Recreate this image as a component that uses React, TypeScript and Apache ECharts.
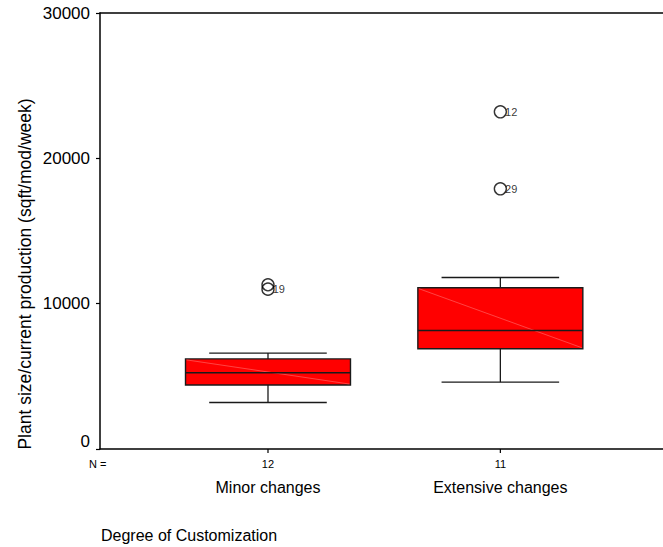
import React, { useEffect, useRef } from "react";
import * as echarts from "echarts";

// Box summary per group (sqft/mod/week)
const categories = ["Minor changes", "Extensive changes"];
const caseCounts = [12, 11];
const lowerWhisker = [3200, 4600];
const q1 = [4400, 6900];
const median = [5250, 8150];
const q3 = [6200, 11100];
const upperWhisker = [6600, 11800];

// Outliers: group index, value, case label
const outlierGroup = [0, 0, 1, 1];
const outlierValue = [11300, 11000, 23200, 17900];
const outlierCase = ["", "19", "12", "29"];

const yTicks = [0, 10000, 20000, 30000];

const FONT = 'Arial, "Liberation Sans", Helvetica, sans-serif';
const BOX_HALF = 0.355;
const CAP_HALF = 0.253;

export default function App() {
  const ref = useRef<HTMLDivElement>(null);

  useEffect(() => {
    document.body.style.margin = "0";
    if (!ref.current) return;
    const chart = echarts.init(ref.current, null, { renderer: "svg" });

    const boxData = categories.map((_, i) => [
      i + 1,
      lowerWhisker[i],
      q1[i],
      median[i],
      q3[i],
      upperWhisker[i],
      caseCounts[i],
    ]);
    const outlierData = outlierValue.map((v, i) => ({
      value: [outlierGroup[i] + 1, v],
      label: { formatter: outlierCase[i] },
    }));

    const renderBox = (params: any, api: any) => {
      const x = api.value(0);
      const idx = params.dataIndex;
      const pLo = api.coord([x, api.value(1)]);
      const pQ1 = api.coord([x, api.value(2)]);
      const pMed = api.coord([x, api.value(3)]);
      const pQ3 = api.coord([x, api.value(4)]);
      const pHi = api.coord([x, api.value(5)]);
      const pBase = api.coord([x, 0]);
      const left = api.coord([x - BOX_HALF, 0])[0];
      const right = api.coord([x + BOX_HALF, 0])[0];
      const capL = api.coord([x - CAP_HALF, 0])[0];
      const capR = api.coord([x + CAP_HALF, 0])[0];
      const cx = pMed[0];
      const lineStyle = { stroke: "#1a1a1a", lineWidth: 1.3 };
      return {
        type: "group",
        children: [
          { type: "line", shape: { x1: cx, y1: pHi[1], x2: cx, y2: pQ3[1] }, style: lineStyle },
          { type: "line", shape: { x1: cx, y1: pQ1[1], x2: cx, y2: pLo[1] }, style: lineStyle },
          { type: "line", shape: { x1: capL, y1: pHi[1], x2: capR, y2: pHi[1] }, style: lineStyle },
          { type: "line", shape: { x1: capL, y1: pLo[1], x2: capR, y2: pLo[1] }, style: lineStyle },
          {
            type: "rect",
            shape: { x: left, y: pQ3[1], width: right - left, height: pQ1[1] - pQ3[1] },
            style: { fill: "#ff0000", stroke: "#1a1a1a", lineWidth: 1.4 },
          },
          {
            type: "line",
            shape: { x1: left + 1, y1: pQ3[1] + 1, x2: right - 1, y2: pQ1[1] - 1 },
            style: { stroke: "rgba(255,150,150,0.75)", lineWidth: 0.6 },
          },
          {
            type: "line",
            shape: { x1: left, y1: pMed[1], x2: right, y2: pMed[1] },
            style: { stroke: "#1a1a1a", lineWidth: 1.6 },
          },
          {
            type: "line",
            shape: { x1: cx, y1: pBase[1], x2: cx, y2: pBase[1] + 4 },
            style: { stroke: "#000", lineWidth: 1.2 },
          },
          {
            type: "text",
            x: cx,
            y: pBase[1] + 15,
            style: {
              text: String(api.value(6)),
              fontSize: 11,
              fontFamily: FONT,
              fill: "#000",
              align: "center",
              verticalAlign: "middle",
            },
          },
          {
            type: "text",
            x: cx,
            y: pBase[1] + 38,
            style: {
              text: categories[idx],
              fontSize: 16,
              fontFamily: FONT,
              fill: "#000",
              align: "center",
              verticalAlign: "middle",
            },
          },
        ],
      };
    };

    const axisLine = { show: true, lineStyle: { color: "#000", width: 1.5 } };

    chart.setOption({
      animation: false,
      backgroundColor: "#fff",
      textStyle: { fontFamily: FONT },
      grid: { left: 100, right: 0, top: 13, bottom: 98, outerBoundsMode: "none" },
      xAxis: [
        {
          type: "value",
          min: 0.277,
          max: 2.7,
          axisLine,
          axisTick: { show: false },
          axisLabel: { show: false },
          splitLine: { show: false },
        },
        {
          type: "value",
          position: "top",
          min: 0.277,
          max: 2.7,
          axisLine,
          axisTick: { show: false },
          axisLabel: { show: false },
          splitLine: { show: false },
        },
      ],
      yAxis: {
        type: "value",
        min: yTicks[0],
        max: yTicks[yTicks.length - 1],
        interval: yTicks[1] - yTicks[0],
        axisLine,
        axisTick: { show: true, length: 4, lineStyle: { color: "#000", width: 1.2 } },
        splitLine: { show: false },
        axisLabel: {
          margin: 10,
          fontSize: 17,
          color: "#000",
          fontFamily: FONT,
          formatter: (v: number) => (v === 0 ? "{z|0}" : String(v)),
          rich: { z: { fontSize: 17, fontFamily: FONT, color: "#000", padding: [0, 0, 16, 0] } },
        },
      },
      graphic: [
        {
          type: "text",
          x: 25,
          y: 274,
          rotation: Math.PI / 2,
          style: {
            text: "Plant size/current production (sqft/mod/week)",
            fontSize: 17.5,
            fontFamily: FONT,
            fill: "#000",
            align: "center",
            verticalAlign: "middle",
          },
        },
        {
          type: "text",
          x: 89,
          y: 464,
          style: { text: "N =", fontSize: 11, fontFamily: FONT, fill: "#000", verticalAlign: "middle" },
        },
        {
          type: "text",
          x: 101,
          y: 535,
          style: {
            text: "Degree of Customization",
            fontSize: 16,
            fontFamily: FONT,
            fill: "#000",
            verticalAlign: "middle",
          },
        },
      ],
      series: [
        {
          type: "custom",
          xAxisIndex: 0,
          renderItem: renderBox,
          data: boxData,
          clip: false,
          z: 2,
        },
        {
          type: "scatter",
          xAxisIndex: 0,
          data: outlierData,
          symbol: "circle",
          symbolSize: 12,
          itemStyle: { color: "rgba(255,255,255,0)", borderColor: "#000", borderWidth: 1.4 },
          label: {
            show: true,
            position: "right",
            distance: 0,
            offset: [-2, 0],
            fontSize: 11,
            fontFamily: FONT,
            color: "#000",
          },
          z: 3,
        },
      ],
    });

    return () => chart.dispose();
  }, []);

  return <div ref={ref} style={{ width: 663, height: 547 }} />;
}
